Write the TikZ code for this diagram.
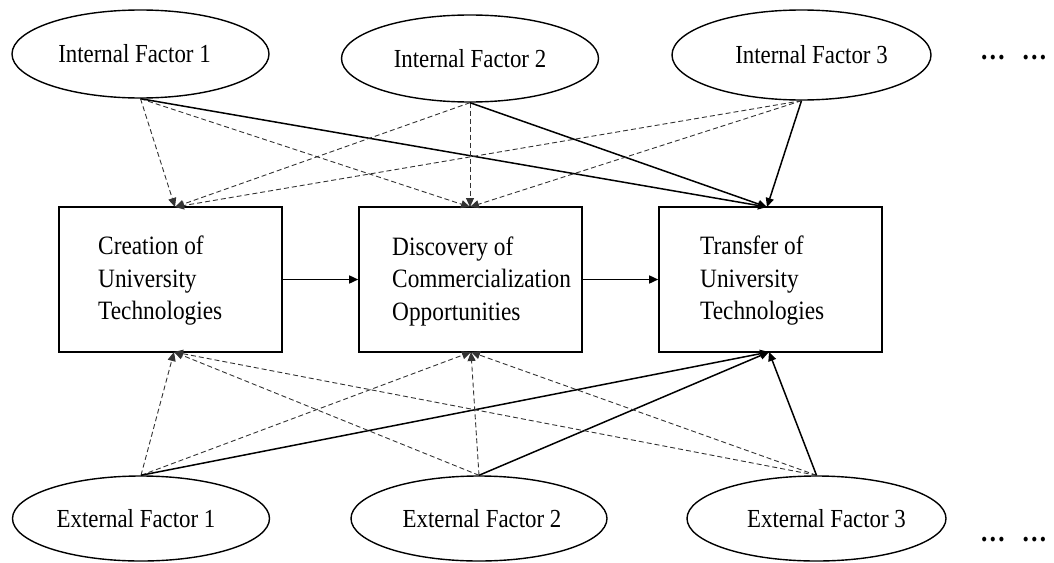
\documentclass[tikz,border=0pt]{standalone}
\usepackage{fontspec}
\setmainfont{Liberation Serif}[FakeStretch=0.88]
\usetikzlibrary{shapes.geometric,arrows.meta}
\begin{document}
\begin{tikzpicture}[x=1pt,y=-1pt,
  factor/.style={draw,line width=1.4pt,ellipse,minimum width=257pt,minimum height=87pt,inner sep=0pt,font=\fontsize{26}{30}\selectfont},
  stage/.style={draw,line width=1.6pt,rectangle,minimum width=223pt,minimum height=145pt,inner sep=0pt},
  stagetext/.style={anchor=west,align=left,inner sep=0pt,font=\fontsize{26.5}{32.5}\selectfont},
  solidarrow/.style={line width=1.5pt,-{Triangle[length=9pt,width=8pt]}},
  dasharrow/.style={line width=0.9pt,draw=black!80,dash pattern=on 5pt off 3pt,-{Triangle[length=9pt,width=8pt]}},
  dots/.style={anchor=west,inner sep=0pt,font=\fontsize{29}{30}\selectfont\bfseries}
]
\useasboundingbox (0,0) rectangle (1054,562);

% top factors
\node[factor,minimum height=88pt] (if1) at (140.5,54) {\hspace*{-12pt}Internal Factor 1};
\node[factor] (if2) at (470,58.5) {Internal Factor 2};
\node[factor,minimum width=259pt,minimum height=90pt] (if3) at (801.5,55) {\hspace*{20pt}Internal Factor 3};
\node[dots] (dtop) at (980,58) {…\hspace{16pt}…};

% stages
\node[stage] (b1) at (170.5,279.5) {};
\node[stage] (b2) at (470.5,279.5) {};
\node[stage] (b3) at (770.5,279.5) {};
\node[stagetext] (t1) at (98,281) {Creation of\\University\\Technologies};
\node[stagetext] (t2) at (392,281) {Discovery of\\Commercialization\\Opportunities};
\node[stagetext] (t3) at (700,281) {Transfer of\\University\\Technologies};

% bottom factors
\node[factor,minimum height=85pt] (ef1) at (141,518.5) {\hspace*{-10pt}External Factor 1};
\node[factor,minimum width=256pt,minimum height=85pt] (ef2) at (479,518.5) {\hspace*{6pt}External Factor 2};
\node[factor,minimum width=259pt,minimum height=85pt] (ef3) at (816.5,518.5) {\hspace*{20pt}External Factor 3};
\node[dots] (dbot) at (980,540) {…\hspace{16pt}…};

% landing points on the boxes
\coordinate (b1t) at (175,207);
\coordinate (b2t) at (470,207);
\coordinate (b3t) at (767,207);
\coordinate (b1b) at (174,352);
\coordinate (b2b) at (471,352);
\coordinate (b3b) at (769,352);

% internal -> stages
\draw[dasharrow] (if1.south) -- (b1t);
\draw[dasharrow] (if1.south) -- (b2t);
\draw[solidarrow] (if1.south) -- (b3t);
\draw[dasharrow] (if2.south) -- (b1t);
\draw[dasharrow] (if2.south) -- (b2t);
\draw[solidarrow] (if2.south) -- (b3t);
\draw[dasharrow] (if3.south) -- (b1t);
\draw[dasharrow] (if3.south) -- (b2t);
\draw[solidarrow] (if3.south) -- (b3t);

% external -> stages
\draw[dasharrow] (ef1.north) -- (b1b);
\draw[dasharrow] (ef1.north) -- (b2b);
\draw[solidarrow] (ef1.north) -- (b3b);
\draw[dasharrow] (ef2.north) -- (b1b);
\draw[dasharrow] (ef2.north) -- (b2b);
\draw[solidarrow] (ef2.north) -- (b3b);
\draw[dasharrow] (ef3.north) -- (b1b);
\draw[dasharrow] (ef3.north) -- (b2b);
\draw[solidarrow] (ef3.north) -- (b3b);

% stage flow
\draw[solidarrow] (b1.east) -- (b2.west);
\draw[solidarrow] (b2.east) -- (b3.west);
\end{tikzpicture}
\end{document}
